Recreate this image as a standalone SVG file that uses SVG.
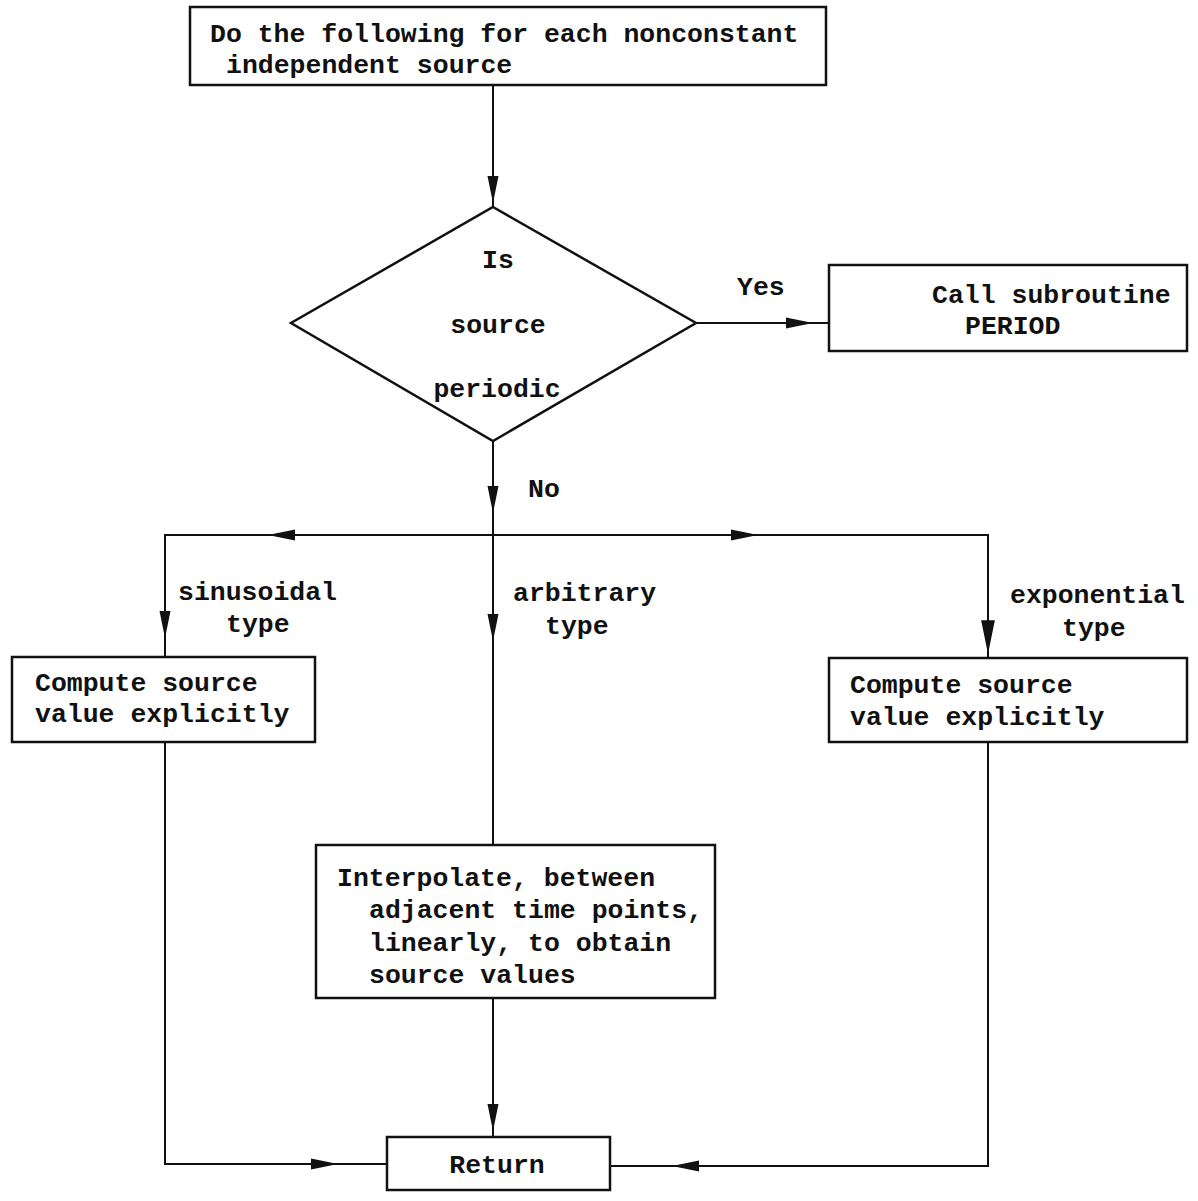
<svg xmlns="http://www.w3.org/2000/svg" width="1198" height="1201" viewBox="0 0 1198 1201">
<style>
.box{fill:#fff;stroke:#111;stroke-width:2.5}
.ln{fill:none;stroke:#111;stroke-width:2}
text{font-family:"Liberation Mono","Courier New",monospace;font-weight:bold;font-size:26.5px;fill:#111}
.c{text-anchor:middle}
</style>
<defs>
<path id="ah" d="M0,0 L-27,-5.5 L-27,5.5 Z" fill="#111"/>
</defs>
<rect width="1198" height="1201" fill="#fff"/>
<g id="connectors">
<path class="ln" d="M493,85 V207"/>
<path class="ln" d="M696,323 H829"/>
<path class="ln" d="M493,441 V845"/>
<path class="ln" d="M165,657 V535 H988 V658"/>
<path class="ln" d="M165,742 V1164 H387"/>
<path class="ln" d="M988,742 V1166 H610"/>
<path class="ln" d="M493,998 V1137"/>
<use href="#ah" transform="translate(493,203) rotate(90)"/>
<use href="#ah" transform="translate(813,323)"/>
<use href="#ah" transform="translate(493,513) rotate(90)"/>
<use href="#ah" transform="translate(268,535) rotate(180)"/>
<use href="#ah" transform="translate(758,535)"/>
<use href="#ah" transform="translate(165,638) rotate(90)"/>
<use href="#ah" transform="translate(493,641) rotate(90)"/>
<use href="#ah" transform="translate(988,654) rotate(90) scale(1.25)"/>
<use href="#ah" transform="translate(493,1131) rotate(90)"/>
<use href="#ah" transform="translate(338,1164)"/>
<use href="#ah" transform="translate(672,1166) rotate(180)"/>
<text x="737" y="295">Yes</text>
<text x="528" y="497">No</text>
<text x="178" y="600">sinusoidal</text>
<text x="226" y="632">type</text>
<text x="513" y="601">arbitrary</text>
<text x="545" y="634">type</text>
<text x="1010" y="603">exponential</text>
<text x="1062" y="636">type</text>
</g>
<g id="start">
<rect class="box" x="190" y="7" width="636" height="78"/>
<text x="210" y="42">Do the following for each nonconstant</text>
<text x="226" y="73">independent source</text>
</g>
<g id="decision">
<polygon class="box" points="493,207 696,323 493,441 291,323"/>
<text class="c" x="498" y="268">Is</text>
<text class="c" x="498" y="333">source</text>
<text class="c" x="497" y="397">periodic</text>
</g>
<g id="period">
<rect class="box" x="829" y="265" width="358" height="86"/>
<text x="932" y="303">Call subroutine</text>
<text x="965" y="334">PERIOD</text>
</g>
<g id="sinusoidal">
<rect class="box" x="12" y="657" width="303" height="85"/>
<text x="35" y="691">Compute source</text>
<text x="35" y="722">value explicitly</text>
</g>
<g id="exponential">
<rect class="box" x="829" y="658" width="358" height="84"/>
<text x="850" y="693">Compute source</text>
<text x="850" y="725">value explicitly</text>
</g>
<g id="interpolate">
<rect class="box" x="316" y="845" width="399" height="153"/>
<text x="337" y="886">Interpolate, between</text>
<text x="369" y="918">adjacent time points,</text>
<text x="369" y="951">linearly, to obtain</text>
<text x="369" y="983">source values</text>
</g>
<g id="return">
<rect class="box" x="387" y="1137" width="223" height="53"/>
<text class="c" x="497" y="1173">Return</text>
</g>
</svg>
